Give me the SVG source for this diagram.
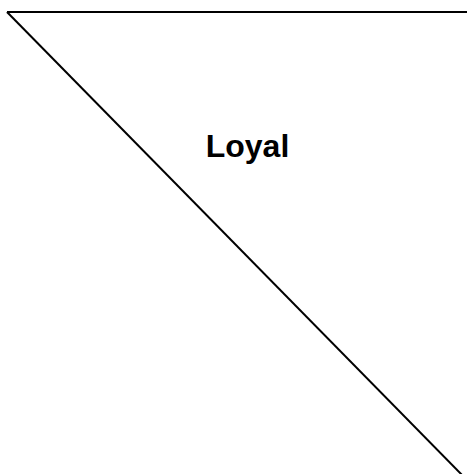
<svg xmlns="http://www.w3.org/2000/svg" width="467" height="474" viewBox="0 0 467 474">
<style>.ln{stroke:#000;stroke-width:2;fill:none}.lbl{font-family:"Liberation Sans",Arial,sans-serif;font-weight:bold;font-size:32px;fill:#000}</style>
<rect width="467" height="474" fill="#fff"/>
<g id="connectors">
<line class="ln" x1="7" y1="12" x2="467" y2="12"/>
<line class="ln" x1="7" y1="12" x2="465" y2="478"/>
</g>
<g id="loyal">
<text class="lbl" x="247.5" y="157" text-anchor="middle">Loyal</text>
</g>
</svg>
